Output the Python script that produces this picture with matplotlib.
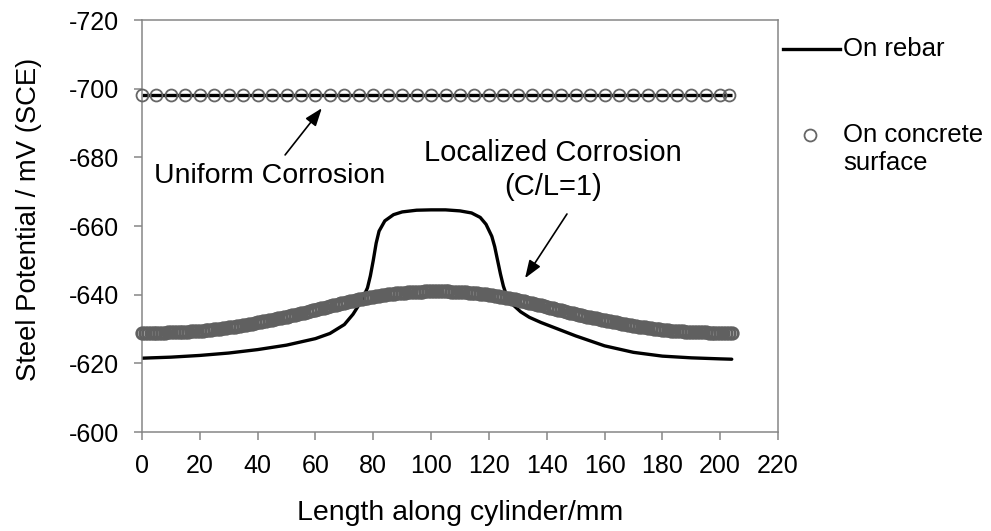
import matplotlib
matplotlib.use("Agg")
import matplotlib.pyplot as plt
from matplotlib.lines import Line2D

plt.rcParams['font.family'] = ['Liberation Sans', 'DejaVu Sans']

# ---- data ----
x_ticks = [0, 20, 40, 60, 80, 100, 120, 140, 160, 180, 200, 220]
y_ticks = [-720, -700, -680, -660, -640, -620, -600]

# Uniform corrosion
uniform_rebar_x = [0, 204]
uniform_rebar_y = [-698.3, -698.3]
uniform_conc_x = [0, 5, 10, 15, 20, 25, 30, 35, 40, 45, 50, 55, 60, 65, 70, 75, 80,
                  85, 90, 95, 100, 105, 110, 115, 120, 125, 130, 135, 140, 145, 150,
                  155, 160, 165, 170, 175, 180, 185, 190, 195, 200, 203]
uniform_conc_y = [-698.3] * len(uniform_conc_x)

# Localized corrosion (C/L=1) - on rebar
local_rebar_x = [0, 10, 20, 30, 40, 50, 60, 65, 70, 73, 76, 78, 79, 80, 81, 82, 84,
                 87, 90, 95, 100, 105, 110, 114, 117, 119, 121, 122, 123, 124, 125,
                 126, 128, 131, 134, 138, 142, 150, 160, 170, 180, 190, 200, 204]
local_rebar_y = [-621.5, -621.8, -622.3, -623.0, -624.0, -625.3, -627.2, -628.7,
                 -631.3, -634.3, -638.3, -642.0, -645.5, -650.0, -655.0, -658.5,
                 -661.5, -663.3, -664.1, -664.6, -664.7, -664.7, -664.4, -663.8,
                 -662.5, -660.5, -657.0, -654.0, -650.0, -646.0, -642.5, -640.0,
                 -637.3, -635.0, -633.4, -631.9, -630.6, -628.0, -625.1, -623.2,
                 -622.1, -621.6, -621.3, -621.2]

# Localized corrosion - on concrete surface (1 mm spacing, 0..204 mm)
local_conc_x = list(range(0, 205))
local_conc_y = [
    -628.8, -628.8, -628.8, -628.8, -628.8, -628.9, -628.9, -628.9, -628.9, -629.0,
    -629.0, -629.0, -629.1, -629.1, -629.1, -629.2, -629.2, -629.3, -629.4, -629.4,
    -629.5, -629.5, -629.6, -629.7, -629.8, -629.9, -630.0, -630.1, -630.2, -630.3,
    -630.5, -630.6, -630.7, -630.8, -631.0, -631.1, -631.3, -631.4, -631.6, -631.7,
    -631.9, -632.0, -632.2, -632.4, -632.6, -632.7, -632.9, -633.1, -633.3, -633.5,
    -633.6, -633.8, -634.0, -634.2, -634.4, -634.6, -634.8, -635.0, -635.2, -635.4,
    -635.6, -635.8, -636.0, -636.2, -636.4, -636.7, -636.9, -637.1, -637.3, -637.5,
    -637.7, -637.9, -638.1, -638.3, -638.5, -638.6, -638.8, -639.0, -639.1, -639.3,
    -639.4, -639.6, -639.7, -639.8, -640.0, -640.1, -640.2, -640.3, -640.4, -640.5,
    -640.6, -640.6, -640.7, -640.8, -640.8, -640.9, -640.9, -640.9, -641.0, -641.0,
    -641.0, -641.0, -641.0,
    -641.0, -641.0, -641.0, -641.0, -640.9, -640.9, -640.9, -640.8, -640.8, -640.7,
    -640.6, -640.6, -640.5, -640.4, -640.3, -640.2, -640.1, -640.0, -639.8, -639.7,
    -639.6, -639.4, -639.3, -639.1, -639.0, -638.8, -638.6, -638.5, -638.3, -638.1,
    -637.9, -637.7, -637.5, -637.3, -637.1, -636.9, -636.7, -636.4, -636.2, -636.0,
    -635.8, -635.6, -635.4, -635.2, -635.0, -634.8, -634.6, -634.4, -634.2, -634.0,
    -633.8, -633.6, -633.5, -633.3, -633.1, -632.9, -632.7, -632.6, -632.4, -632.2,
    -632.0, -631.9, -631.7, -631.6, -631.4, -631.3, -631.1, -631.0, -630.8, -630.7,
    -630.6, -630.5, -630.3, -630.2, -630.1, -630.0, -629.9, -629.8, -629.7, -629.6,
    -629.5, -629.5, -629.4, -629.4, -629.3, -629.2, -629.2, -629.1, -629.1, -629.1,
    -629.0, -629.0, -629.0, -628.9, -628.9, -628.9, -628.9, -628.8, -628.8, -628.8,
    -628.8, -628.8,
]

# ---- figure ----
W, H = 991, 531
fig = plt.figure(figsize=(W / 100, H / 100), dpi=100)
ax = fig.add_axes([142 / W, 1 - 432 / H, (778 - 142) / W, (432 - 20) / H])

spine_col = '#868686'
line_col = 'black'
mark_col = '#666666'

ax.plot(uniform_rebar_x, uniform_rebar_y, color=line_col, lw=2.4, zorder=2,
        solid_capstyle='butt')
ax.plot(uniform_conc_x, uniform_conc_y, ls='none', marker='o', ms=8.6,
        mfc='none', mec=mark_col, mew=1.3, zorder=3, clip_on=False)

ax.plot(local_rebar_x, local_rebar_y, color=line_col, lw=2.4, zorder=2,
        solid_capstyle='round')
ax.plot(local_conc_x, local_conc_y, ls='none', marker='o', ms=8.4,
        mfc='none', mec='#606060', mew=1.9, zorder=3, clip_on=False)

ax.set_xlim(0, 220)
ax.set_ylim(-600, -720)
ax.set_xticks(x_ticks)
ax.set_yticks(y_ticks)
ax.set_xticklabels([str(v) for v in x_ticks])
ax.set_yticklabels([str(v) for v in y_ticks])

for s in ax.spines.values():
    s.set_color(spine_col)
    s.set_linewidth(1.1)
ax.tick_params(axis='both', direction='out', length=5.5, width=1.1,
               color=spine_col, labelcolor='black', labelsize=18)
ax.tick_params(axis='y', pad=11)
ax.tick_params(axis='x', pad=10)

ax.set_xlabel('Length along cylinder/mm', fontsize=20.5)
ax.xaxis.set_label_coords(0.5, -0.165)
ax.set_ylabel('Steel Potential / mV (SCE)', fontsize=19.8)
ax.yaxis.set_label_coords(-0.157, 0.515)

# annotations
arrow_kw = dict(arrowstyle='-|>,head_length=0.6,head_width=0.22', color='black',
                lw=1.2, mutation_scale=18, shrinkA=0, shrinkB=0)
ax.text(44.3, -674.6, 'Uniform Corrosion', fontsize=20.5, ha='center', va='center')
ax.annotate('', xy=(62.2, -694.3), xytext=(49.5, -680.7), arrowprops=arrow_kw)
ax.text(142.2, -676.3, 'Localized Corrosion\n(C/L=1)', fontsize=21,
        ha='center', va='center', linespacing=1.25, multialignment='center')
ax.annotate('', xy=(132.5, -644.8), xytext=(147.0, -663.5), arrowprops=arrow_kw)

# legend (outside right)
fig.add_artist(Line2D([783 / W, 840 / W], [1 - 49 / H, 1 - 49 / H],
                      transform=fig.transFigure, color=line_col, lw=2.4))
fig.text(843 / W, 1 - 49 / H, 'On rebar', fontsize=18.5, ha='left', va='center')
fig.add_artist(Line2D([810 / W], [1 - 135 / H], transform=fig.transFigure,
                      ls='none', marker='o', ms=8.6, mfc='none', mec=mark_col, mew=1.3))
fig.text(843 / W, 1 - 135 / H, 'On concrete', fontsize=18.5, ha='left', va='center')
fig.text(843 / W, 1 - 163 / H, 'surface', fontsize=18.5, ha='left', va='center')

fig.savefig('out.png', dpi=100)
